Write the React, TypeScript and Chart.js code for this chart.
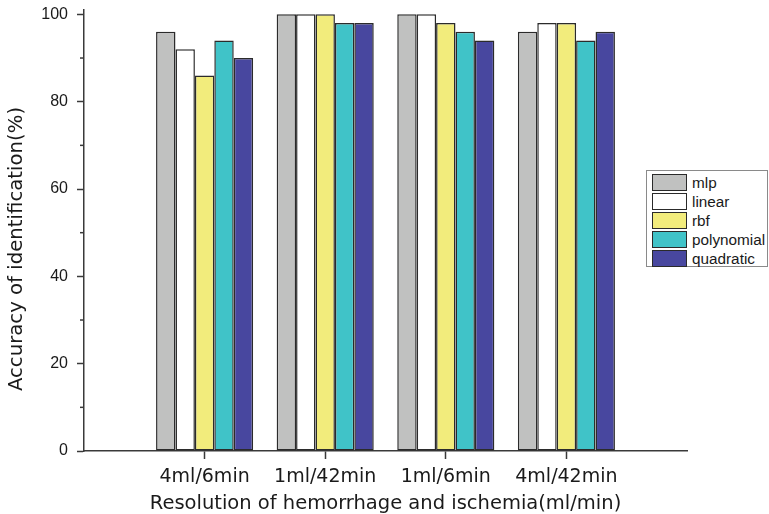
import React, { useEffect, useRef } from "react";
import { Chart, registerables } from "chart.js";

Chart.register(...registerables);

const categories = ["4ml/6min", "1ml/42min", "1ml/6min", "4ml/42min"];
const seriesNames = ["mlp", "linear", "rbf", "polynomial", "quadratic"];
const mlp = [96, 100, 100, 96];
const linear = [92, 100, 100, 98];
const rbf = [86, 100, 98, 98];
const polynomial = [94, 98, 96, 94];
const quadratic = [90, 98, 94, 96];
const seriesColors = ["#c0c1c0", "#ffffff", "#f2ec7c", "#40c3c8", "#48479f"];
const yMajorTicks = [0, 20, 40, 60, 80, 100];
const yMinorTicks = [10, 30, 50, 70, 90];
const xTitle = "Resolution of hemorrhage and ischemia(ml/min)";
const yTitle = "Accuracy of identification(%)";

const AXIS = "#3a3a3a";
const TEXT = "#1a1a1a";

export default function App() {
  const ref = useRef<HTMLCanvasElement | null>(null);

  useEffect(() => {
    if (!ref.current) return;
    const values = [mlp, linear, rbf, polynomial, quadratic];
    const labels = ["", ...categories, ""];
    const allTicks = [...yMajorTicks, ...yMinorTicks].sort((a, b) => a - b);

    const extras = {
      id: "extras",
      afterDraw(chart: any) {
        const ctx = chart.ctx;
        const ys = chart.scales.y;
        ctx.save();
        ctx.strokeStyle = AXIS;
        ctx.lineWidth = 1.5;
        for (const v of yMinorTicks) {
          const p = ys.getPixelForValue(v);
          ctx.beginPath();
          ctx.moveTo(ys.right - 4, p);
          ctx.lineTo(ys.right, p);
          ctx.stroke();
        }
        ctx.restore();
        ctx.save();
        ctx.translate(17, 249);
        ctx.rotate(-Math.PI / 2);
        ctx.font = '19.7px "DejaVu Sans"';
        ctx.fillStyle = TEXT;
        ctx.textAlign = "center";
        ctx.textBaseline = "middle";
        ctx.fillText(yTitle, 0, 0);
        ctx.restore();
      },
    };

    const chart = new Chart(ref.current, {
      type: "bar",
      data: {
        labels,
        datasets: seriesNames.map((name, i) => ({
          label: name,
          data: [null, ...values[i], null],
          backgroundColor: seriesColors[i],
          borderColor: "#2b2b2b",
          borderWidth: 1.5,
          borderSkipped: false,
          barPercentage: 1,
          categoryPercentage: 0.805,
        })),
      },
      options: {
        responsive: false,
        animation: false,
        layout: { padding: { top: 10, right: 82, bottom: 0, left: 0 } },
        plugins: { legend: { display: false }, tooltip: { enabled: false } },
        scales: {
          x: {
            offset: false,
            grid: {
              offset: false,
              drawOnChartArea: false,
              tickLength: 8,
              tickWidth: 1.5,
              tickColor: (c: any) =>
                c.index === 0 || c.index === labels.length - 1 ? "transparent" : AXIS,
            },
            border: { display: true, color: AXIS, width: 1.5 },
            ticks: {
              color: TEXT,
              font: { family: "DejaVu Sans", size: 19 },
              padding: 7,
              maxRotation: 0,
              autoSkip: false,
            },
            title: {
              display: true,
              text: xTitle,
              color: TEXT,
              font: { family: "DejaVu Sans", size: 19.5 },
              padding: { top: 0, bottom: -2 },
            },
            afterFit: (s: any) => {
              s.height = 63;
              s.paddingLeft = 0;
              s.paddingRight = 0;
            },
          },
          y: {
            min: 0,
            max: 101,
            afterBuildTicks: (axis: any) => {
              axis.ticks = allTicks.map((v) => ({ value: v }));
            },
            grid: {
              drawOnChartArea: false,
              tickLength: 7,
              tickWidth: 1.5,
              tickColor: (c: any) =>
                c.tick && yMajorTicks.includes(c.tick.value) ? AXIS : "transparent",
            },
            border: { display: true, color: AXIS, width: 1.5 },
            ticks: {
              color: TEXT,
              font: { family: "Liberation Sans", size: 16 },
              padding: 9,
              callback: (v: any) => (yMajorTicks.includes(Number(v)) ? String(v) : ""),
            },
            afterFit: (s: any) => {
              s.width = 84;
              s.paddingTop = 0;
              s.paddingBottom = 0;
            },
          },
        },
      },
      plugins: [extras],
    });
    return () => chart.destroy();
  }, []);

  return (
    <div style={{ position: "absolute", left: 0, top: 0, width: 769, height: 514, background: "#fff" }}>
      <canvas ref={ref} width={769} height={514} style={{ width: 769, height: 514, display: "block" }} />
      <div
        style={{
          position: "absolute",
          left: 646,
          top: 170,
          width: 122,
          height: 97,
          border: "1px solid #8a8a8a",
          background: "#fff",
          boxSizing: "border-box",
          paddingTop: 2,
        }}
      >
        {seriesNames.map((name, i) => (
          <div key={name} style={{ display: "flex", alignItems: "center", height: 19 }}>
            <div
              style={{
                marginLeft: 5,
                width: 35,
                height: 17,
                boxSizing: "border-box",
                border: "1.5px solid #2a2a2a",
                background: seriesColors[i],
              }}
            />
            <span
              style={{
                marginLeft: 5,
                fontFamily: '"Liberation Sans", Arial, sans-serif',
                fontSize: 15.3,
                color: TEXT,
                lineHeight: "17px",
              }}
            >
              {name}
            </span>
          </div>
        ))}
      </div>
    </div>
  );
}
